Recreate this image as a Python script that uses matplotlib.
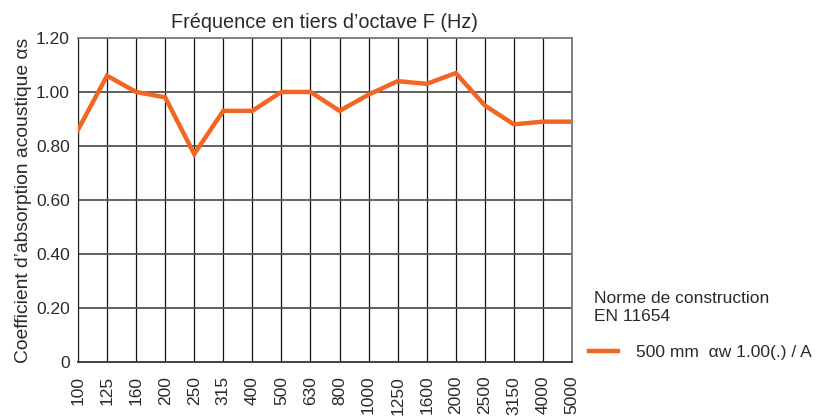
import matplotlib

matplotlib.use("Agg")
import matplotlib.pyplot as plt

plt.rcParams["font.family"] = ["Liberation Sans", "DejaVu Sans"]

frequencies = ["100", "125", "160", "200", "250", "315", "400", "500", "630",
               "800", "1000", "1250", "1600", "2000", "2500", "3150", "4000", "5000"]
alpha_s = [0.86, 1.06, 1.00, 0.98, 0.77, 0.93, 0.93, 1.00, 1.00,
           0.93, 0.99, 1.04, 1.03, 1.07, 0.95, 0.88, 0.89, 0.89]
y_ticks = [0, 0.20, 0.40, 0.60, 0.80, 1.00, 1.20]
y_labels = ["0", "0.20", "0.40", "0.60", "0.80", "1.00", "1.20"]
series_label = "500 mm  αw 1.00(.) / A"

text_color = "#2a2a2a"
orange = "#f26522"

fig = plt.figure(figsize=(8.21, 4.17), dpi=100)
ax = fig.add_axes([0.095, 0.132, 0.6017, 0.777])

x = list(range(len(frequencies)))
line, = ax.plot(x, alpha_s, color=orange, lw=3.2, solid_joinstyle="miter", zorder=3,
                label=series_label)

ax.set_xlim(0, len(frequencies) - 1)
ax.set_ylim(0, 1.20)
ax.set_xticks(x)
ax.set_xticklabels(frequencies, rotation=90, fontsize=12.5, color=text_color)
ax.set_yticks(y_ticks)
ax.set_yticklabels(y_labels, fontsize=12.5, color=text_color)
ax.tick_params(length=0, pad=6)
ax.tick_params(axis="x", pad=10)

for xi in x:
    ax.axvline(xi, color="#111111", lw=0.9, zorder=1)
for yv in y_ticks[1:-1]:
    ax.axhline(yv, color="#555555", lw=1.3, zorder=2)

for side in ["top", "right"]:
    ax.spines[side].set_color("#777777")
    ax.spines[side].set_linewidth(1.3)
ax.spines["left"].set_color("#222222")
ax.spines["bottom"].set_color("#333333")
ax.spines["bottom"].set_linewidth(1.3)

ax.set_title("Fréquence en tiers d’octave F (Hz)", fontsize=14.3, color=text_color, pad=7)
ax.set_ylabel("Coefficient d’absorption acoustique αs", fontsize=13.9, color=text_color,
              labelpad=3)

fig.text(0.7235, 0.262, "Norme de construction\nEN 11654", fontsize=12.5, color=text_color,
         ha="left", va="center", linespacing=1.25)
ax.legend(handles=[line], frameon=False, loc="center left", bbox_to_anchor=(1.02, 0.03),
          fontsize=12.5, handlelength=1.7, handletextpad=1.0, labelcolor=text_color,
          borderaxespad=0)

fig.savefig("out.png", dpi=100)
